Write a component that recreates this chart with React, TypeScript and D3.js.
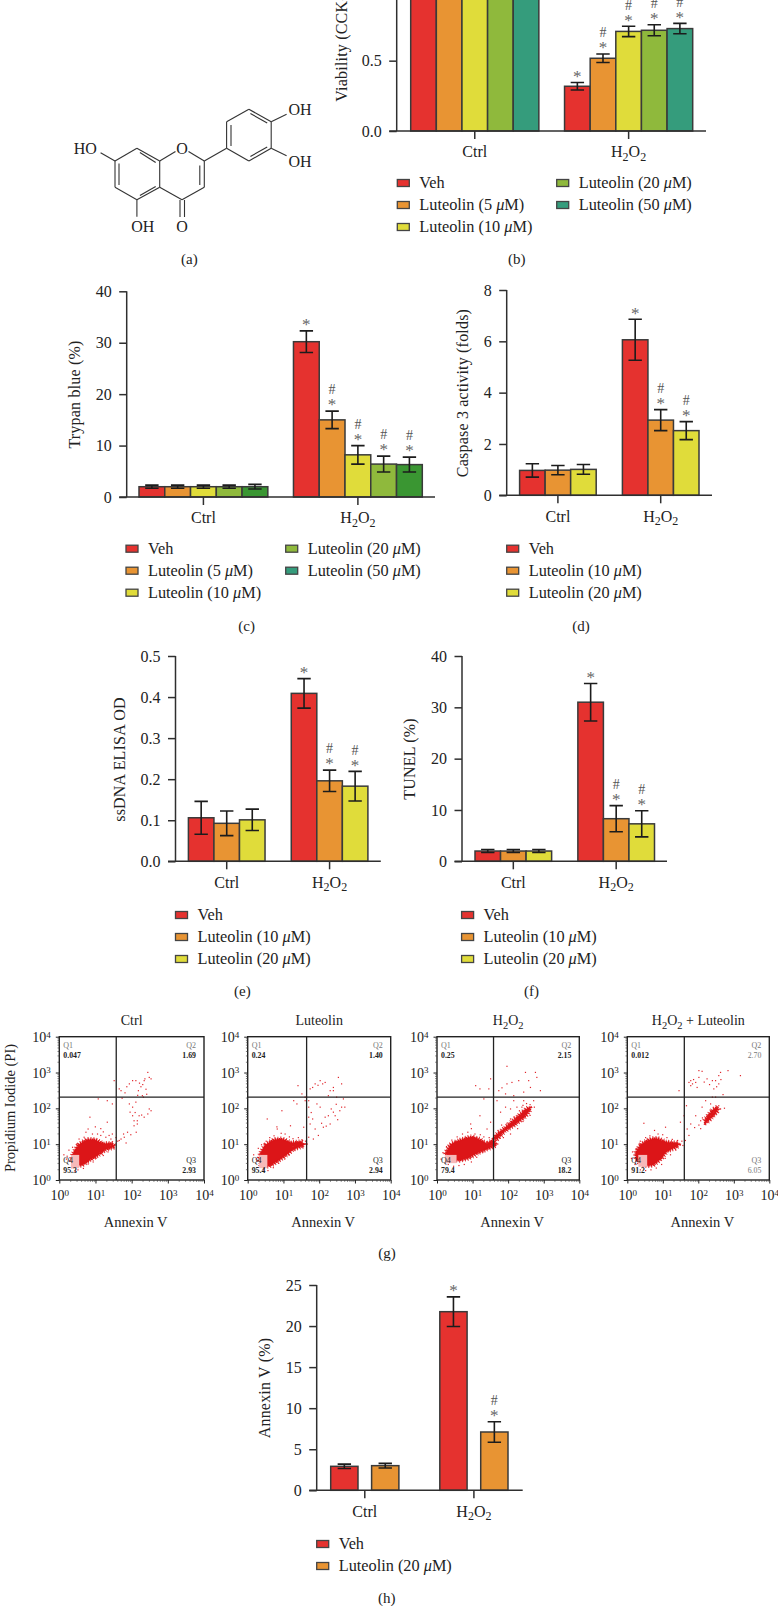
import React, { useEffect, useRef } from 'react';
import * as d3 from 'd3';

type Pt = [number, number];

const SERIF = '"Liberation Serif", "Times New Roman", serif';
const INK = '#2f2f2f';

const categories = ['Ctrl', 'H2O2'];

const RED = '#e5322f';
const ORANGE = '#e89433';
const YELLOW = '#e0dc3a';
const GREEN = '#8fb93c';
const TEAL = '#359c7c';
const DARK_GREEN = '#3a9632';

const fiveDoses = ['Veh', 'Luteolin (5 μM)', 'Luteolin (10 μM)', 'Luteolin (20 μM)', 'Luteolin (50 μM)'];
const threeDoses = ['Veh', 'Luteolin (10 μM)', 'Luteolin (20 μM)'];
const twoDoses = ['Veh', 'Luteolin (20 μM)'];

// (b) viability, the top of this panel falls off the page
const bMeans = [[1.0, 1.0, 1.0, 1.0, 1.0], [0.318, 0.517, 0.708, 0.716, 0.728]];
const bErrs = [[0.03, 0.03, 0.03, 0.03, 0.03], [0.027, 0.03, 0.037, 0.039, 0.037]];
const bMarks = [['', '', '', '', ''], ['*', '*#', '*#', '*#', '*#']];
const bTicks = [0, 0.5];

// (c) trypan blue
const cMeans = [[2, 2, 2, 2, 2], [30.2, 15, 8.2, 6.4, 6.3]];
const cErrs = [[0.3, 0.3, 0.3, 0.3, 0.45], [2.1, 1.7, 1.8, 1.55, 1.45]];
const cMarks = [['', '', '', '', ''], ['*', '*#', '*#', '*#', '*#']];
const cTicks = [0, 10, 20, 30, 40];

// (d) caspase 3
const dMeans = [[0.97, 0.98, 1.01], [6.06, 2.93, 2.52]];
const dErrs = [[0.26, 0.18, 0.19], [0.8, 0.41, 0.35]];
const dMarks = [['', '', ''], ['*', '*#', '*#']];
const dTicks = [0, 2, 4, 6, 8];

// (e) ssDNA
const eMeans = [[0.106, 0.0925, 0.101], [0.409, 0.196, 0.183]];
const eErrs = [[0.04, 0.03, 0.026], [0.036, 0.026, 0.036]];
const eMarks = [['', '', ''], ['*', '*#', '*#']];
const eTicks = [0, 0.1, 0.2, 0.3, 0.4, 0.5];

// (f) TUNEL
const fMeans = [[2, 2, 2], [31, 8.3, 7.3]];
const fErrs = [[0.3, 0.3, 0.3], [3.65, 2.55, 2.55]];
const fMarks = [['', '', ''], ['*', '*#', '*#']];
const fTicks = [0, 10, 20, 30, 40];

// (h) annexin V
const hMeans = [[2.92, 3.0], [21.75, 7.1]];
const hErrs = [[0.27, 0.28], [1.8, 1.25]];
const hMarks = [['', ''], ['*', '*#']];
const hTicks = [0, 5, 10, 15, 20, 25];

// (g) flow plots, all points as log10 of the channel value
const decades = [1, 10, 100, 1000, 10000];
const gateY = 2.316;

const ctrlBlob: Pt[] = [[0.39, 0.74], [0.53, 0.98], [0.76, 1.12], [0.99, 1.12], [1.22, 1.02], [1.45, 1.02], [1.52, 0.93], [1.27, 0.84], [1.08, 0.7], [0.85, 0.56], [0.62, 0.42], [0.44, 0.42], [0.34, 0.56]];
const ctrlDots: Pt[] = [
  [1.64, 2.56], [1.69, 2.51], [1.85, 2.62], [1.92, 2.7], [2.01, 2.79], [2.1, 2.79], [2.17, 2.51], [2.24, 2.62], [2.33, 2.79], [2.35, 2.84], [2.43, 3.02], [2.47, 2.88], [2.52, 2.84], [2.28, 2.37], [2.1, 2.19], [2.01, 2.05], [1.92, 2.14], [2.19, 1.81], [2.33, 1.77], [2.52, 1.95], [2.43, 1.86], [2.14, 1.67], [2.05, 1.67], [2.01, 1.81], [1.94, 1.91], [1.87, 1.35], [1.78, 1.21], [1.69, 1.16], [1.64, 1.12], [2.05, 1.53], [2.14, 1.58], [1.5, 2.79], [1.06, 2.28], [1.31, 2.23], [1.45, 2.14], [0.83, 1.77], [1.31, 1.63], [1.13, 1.45],
  [1.72, 2.3], [1.8, 2.45], [2.2, 2.72], [2.29, 2.68], [2.38, 2.55], [2.4, 2.41], [2.15, 2.38], [2.31, 2.33], [2.47, 2.0], [2.26, 1.83], [2.08, 1.9], [2.11, 1.35], [1.96, 1.28], [1.76, 1.3], [1.83, 1.05],
  [0.11, 0.72], [0.2, 0.68], [0.25, 0.85], [0.35, 0.93], [0.47, 1.02], [0.53, 1.16], [0.67, 1.21], [0.78, 1.44], [0.9, 1.3], [1.04, 1.3], [1.13, 1.26], [1.27, 1.21], [1.36, 1.26], [1.41, 1.16], [0.98, 1.5], [0.72, 1.35], [1.2, 1.36], [1.45, 1.3], [1.55, 1.2], [1.6, 1.1], [1.52, 0.98], [1.4, 0.98], [1.25, 0.86], [1.1, 0.78], [1.0, 0.62], [0.92, 0.52], [0.78, 0.46], [0.65, 0.34], [0.5, 0.3], [0.42, 0.26], [0.33, 0.36], [0.27, 0.55], [0.18, 0.6], [1.2, 0.7], [1.33, 0.8],
];

const lutBlob: Pt[] = [[0.36, 0.74], [0.5, 0.98], [0.74, 1.12], [0.97, 1.14], [1.2, 1.05], [1.5, 1.06], [1.56, 0.96], [1.28, 0.86], [1.08, 0.7], [0.85, 0.54], [0.62, 0.4], [0.44, 0.4], [0.33, 0.56]];
const lutDots: Pt[] = [
  [1.73, 2.56], [1.87, 2.7], [2.01, 2.79], [2.15, 2.74], [2.38, 2.6], [2.52, 2.88], [2.61, 2.7], [2.47, 2.33], [2.24, 2.37], [2.29, 2.51], [2.38, 2.51], [2.66, 2.28], [2.7, 2.05], [2.56, 1.95], [2.38, 1.91], [2.24, 1.81], [2.15, 1.77], [2.01, 2.05], [1.92, 2.14], [1.69, 2.23], [1.69, 2.05], [1.69, 1.77], [1.73, 1.58], [1.87, 1.44], [2.1, 1.49], [2.29, 1.58], [2.43, 1.81], [2.61, 2.05], [1.69, 1.21], [1.82, 1.16], [1.96, 1.26], [1.36, 2.14], [1.27, 2.23], [1.5, 2.42], [1.59, 2.33], [1.59, 2.23], [0.94, 1.95], [0.53, 1.72], [0.81, 1.44], [1.18, 1.53], [1.55, 1.49], [1.39, 2.65],
  [1.8, 2.6], [1.95, 2.66], [2.08, 2.7], [1.76, 1.9], [1.8, 1.72], [2.05, 1.6], [2.18, 1.52], [2.32, 2.0], [2.5, 1.7], [2.46, 2.13],
  [0.15, 0.72], [0.22, 0.6], [0.28, 0.9], [0.37, 1.0], [0.5, 1.1], [0.6, 1.2], [0.72, 1.25], [0.8, 1.5], [0.92, 1.32], [1.03, 1.3], [1.15, 1.22], [1.25, 1.17], [1.4, 1.2], [1.5, 1.14], [1.6, 1.1], [1.65, 1.02], [1.45, 0.95], [1.3, 0.85], [1.15, 0.72], [1.02, 0.6], [0.85, 0.48], [0.7, 0.36], [0.55, 0.28], [0.42, 0.3], [0.3, 0.42], [0.25, 0.55], [1.25, 0.95],
];

const h2o2Blob: Pt[] = [[0.25, 0.74], [0.38, 0.98], [0.62, 1.1], [0.95, 1.2], [1.18, 1.14], [1.4, 1.02], [1.6, 1.12], [1.65, 0.98], [1.4, 0.86], [1.15, 0.76], [0.9, 0.62], [0.62, 0.55], [0.35, 0.62]];
const h2o2Band: Pt[] = [[1.62, 1.22], [1.91, 1.45], [2.28, 1.78], [2.56, 2.02], [2.62, 1.98], [2.47, 1.77], [2.19, 1.55], [1.91, 1.37], [1.68, 1.14]];
const h2o2Dots: Pt[] = [
  [1.95, 3.19], [1.49, 2.84], [1.07, 2.65], [1.19, 2.56], [1.44, 2.56], [1.72, 2.51], [1.81, 2.59], [1.95, 2.7], [2.09, 2.74], [2.28, 2.79], [2.47, 3.02], [2.56, 2.79], [2.75, 3.02], [2.79, 2.88], [2.61, 2.6], [2.89, 2.51], [2.42, 2.47], [2.14, 2.37], [1.91, 2.42], [1.3, 2.28], [1.67, 2.23], [2.14, 2.23], [2.42, 2.23], [2.7, 2.23], [1.91, 2.05], [1.77, 1.91], [2.05, 2.0], [2.23, 2.05], [2.37, 2.05], [1.19, 1.81], [1.49, 1.63], [1.39, 1.44], [0.93, 1.58],
  [0.1, 0.6], [0.15, 0.78], [0.25, 0.95], [0.4, 1.13], [0.55, 1.22], [0.7, 1.3], [0.85, 1.35], [0.95, 1.45], [1.05, 1.3], [1.2, 1.28], [1.3, 1.22], [1.45, 1.2], [1.5, 0.98], [1.3, 0.8], [1.1, 0.65], [0.95, 0.52], [0.75, 0.45], [0.6, 0.42], [0.45, 0.4], [0.3, 0.45],
  [1.7, 1.4], [1.8, 1.55], [1.95, 1.6], [2.05, 1.72], [2.15, 1.78], [2.3, 1.95], [2.4, 2.1], [2.5, 2.15], [2.6, 2.12], [2.72, 2.05], [2.6, 1.82], [2.4, 1.65], [2.25, 1.45], [2.05, 1.3], [1.85, 1.2], [1.75, 1.18],
];

const comboBlob: Pt[] = [[0.24, 0.76], [0.38, 0.98], [0.6, 1.12], [0.83, 1.16], [1.1, 1.06], [1.44, 1.02], [1.38, 0.92], [1.12, 0.8], [0.95, 0.6], [0.72, 0.42], [0.42, 0.42], [0.26, 0.58]];
const comboBand: Pt[] = [[2.18, 1.66], [2.38, 1.93], [2.54, 2.03], [2.54, 1.93], [2.38, 1.75], [2.22, 1.6]];
const comboDots: Pt[] = [
  [1.77, 2.79], [1.82, 2.7], [2.0, 3.07], [2.09, 3.05], [2.23, 2.84], [2.0, 2.88], [1.91, 2.74], [1.72, 2.74], [1.77, 2.65], [2.38, 2.79], [2.47, 2.79], [2.56, 2.93], [2.61, 3.02], [2.56, 2.7], [2.42, 2.56], [2.82, 3.07], [3.17, 2.93], [1.44, 2.51], [2.38, 2.33], [2.47, 2.33], [2.19, 2.23], [2.09, 2.05], [2.33, 2.14], [2.56, 2.09], [2.61, 2.0], [2.42, 1.91], [2.33, 1.81], [2.19, 1.72], [2.05, 1.67], [1.91, 1.81], [1.77, 1.58], [1.67, 1.44], [1.72, 1.26], [1.62, 1.12], [1.58, 1.81], [1.65, 2.09], [0.45, 1.6], [1.06, 1.49], [1.48, 1.63],
  [1.85, 2.82], [1.95, 2.6], [2.15, 2.75], [2.3, 2.68], [2.5, 2.62], [2.62, 2.82], [2.68, 2.4], [2.0, 1.55], [1.88, 1.48], [2.05, 1.45], [2.1, 1.75], [2.72, 2.02],
  [0.1, 0.62], [0.13, 0.8], [0.25, 0.9], [0.35, 1.1], [0.5, 1.2], [0.62, 1.25], [0.75, 1.4], [0.85, 1.3], [0.98, 1.28], [1.1, 1.2], [1.25, 1.15], [1.4, 1.12], [1.52, 1.1], [1.55, 0.98], [1.35, 0.85], [1.2, 0.72], [1.05, 0.62], [0.95, 0.45], [0.8, 0.35], [0.65, 0.3], [0.5, 0.28], [0.35, 0.3], [0.2, 0.45],
];

const ctrlQuads = ['0.047', '1.69', '95.3', '2.93'];
const lutQuads = ['0.24', '1.40', '95.4', '2.94'];
const h2o2Quads = ['0.25', '2.15', '79.4', '18.2'];
const comboQuads = ['0.012', '2.70', '91.2', '6.05'];

function writeChem(sel: d3.Selection<any, any, any, any>, label: string, subDy = 0.3) {
  // H2O2 style labels: digits drop to subscript
  sel.text(null);
  let wasSub = false;
  label.split(/(\d)/).filter(Boolean).forEach(part => {
    const isSub = /\d/.test(part);
    const span = sel.append('tspan').text(part);
    if (isSub) span.attr('font-size', '0.75em').attr('dy', `${subDy}em`);
    else if (wasSub) span.attr('dy', `${-subDy * 0.75}em`);
    wasSub = isSub;
  });
}

function writeDose(sel: d3.Selection<any, any, any, any>, label: string) {
  const [a, b] = label.split('μ');
  sel.text(a);
  if (b !== undefined) {
    sel.append('tspan').attr('font-style', 'italic').text('μ');
    sel.append('tspan').text(b);
  }
}

interface BarPanelProps {
  axisX: number;
  axisEnd: number;
  top: number;
  bottom: number;
  barStart: number;
  barEnd: number;
  groupGap: number;
  barGap?: number;
  maxY: number;
  ticks: number[];
  tickFormat: string;
  means: number[][];
  errs: number[][];
  marks: string[][];
  colors: string[];
  legendColors?: string[];
  legend: string[];
  legendX: number;
  legendY: number;
  legendX2?: number;
  title: string;
  titleX: number;
  titleY: number;
  titleAnchor?: string;
}

function BarPanel(p: BarPanelProps) {
  const ref = useRef<SVGGElement>(null);

  useEffect(() => {
    if (!ref.current) return;
    const g = d3.select(ref.current);
    g.selectAll('*').remove();

    const y = d3.scaleLinear().domain([0, p.maxY]).range([p.bottom, p.top]);
    const x = d3.scaleBand<string>()
      .domain(categories)
      .range([p.barStart, p.barEnd])
      .paddingInner(p.groupGap);
    const inner = d3.scaleBand<number>()
      .domain(d3.range(p.colors.length))
      .range([0, x.bandwidth()])
      .paddingInner(p.barGap ?? 0);

    categories.forEach((cat, i) => {
      const grp = g.append('g').attr('transform', `translate(${x(cat)},0)`);
      p.means[i].forEach((v, j) => {
        grp.append('rect')
          .attr('x', inner(j)!)
          .attr('y', y(v))
          .attr('width', inner.bandwidth())
          .attr('height', y(0) - y(v))
          .attr('fill', p.colors[j])
          .attr('stroke', '#3a3a3a')
          .attr('stroke-width', 1.5);
      });
      p.means[i].forEach((v, j) => {
        const cx = inner(j)! + inner.bandwidth() / 2;
        const hi = y(v + p.errs[i][j]);
        const lo = y(v - p.errs[i][j]);
        const path = d3.path();
        path.moveTo(cx, hi); path.lineTo(cx, lo);
        path.moveTo(cx - 6.7, hi); path.lineTo(cx + 6.7, hi);
        path.moveTo(cx - 6.7, lo); path.lineTo(cx + 6.7, lo);
        grp.append('path').attr('d', path.toString()).attr('fill', 'none').attr('stroke', '#1c1c1c').attr('stroke-width', 1.6);

        const mark = p.marks[i][j];
        if (mark.includes('*')) {
          grp.append('text').attr('x', cx).attr('y', hi - 0.7).attr('text-anchor', 'middle')
            .attr('font-size', 17).attr('fill', '#666').text('*');
        }
        if (mark.includes('#')) {
          grp.append('text').attr('x', cx).attr('y', hi - 16.7).attr('text-anchor', 'middle')
            .attr('font-size', 14).attr('fill', '#555').text('#');
        }
      });
    });

    // axes
    const yAxis = g.append('g').attr('transform', `translate(${p.axisX},0)`)
      .call(d3.axisLeft(y).tickValues(p.ticks).tickSize(7.5).tickPadding(7.5).tickFormat(d3.format(p.tickFormat) as any));
    yAxis.select('.domain').remove();
    yAxis.append('line').attr('y1', y(0)).attr('y2', p.top);
    yAxis.selectAll('line').attr('stroke', INK).attr('stroke-width', 1.5);

    const xAxis = g.append('g').attr('transform', `translate(0,${p.bottom})`)
      .call(d3.axisBottom(x).tickSize(8).tickPadding(7));
    xAxis.select('.domain').remove();
    xAxis.append('line').attr('x1', p.axisX - 7.5).attr('x2', p.axisEnd);
    xAxis.selectAll('line').attr('stroke', INK).attr('stroke-width', 1.5);
    xAxis.selectAll<SVGTextElement, string>('.tick text').each(function (d) {
      if (d === 'H2O2') writeChem(d3.select(this), d);
    });

    g.selectAll('.tick text').attr('fill', '#222').attr('font-size', 16).attr('font-family', SERIF);

    g.append('text')
      .attr('transform', `translate(${p.titleX},${p.titleY}) rotate(-90)`)
      .attr('text-anchor', p.titleAnchor ?? 'middle')
      .attr('dominant-baseline', 'central')
      .attr('font-size', 16)
      .attr('letter-spacing', 0.2)
      .attr('fill', '#222')
      .text(p.title);

    // legend: three rows, then a second column when there are more entries
    p.legend.forEach((label, i) => {
      const col = i < 3 ? 0 : 1;
      const row = i < 3 ? i : i - 3;
      const lx = col === 0 ? p.legendX : p.legendX2!;
      const ly = p.legendY + row * 22;
      g.append('rect').attr('x', lx).attr('y', ly - 3.5).attr('width', 12).attr('height', 7)
        .attr('fill', (p.legendColors ?? p.colors)[i]).attr('stroke', '#444').attr('stroke-width', 1.3);
      const t = g.append('text').attr('x', lx + 22).attr('y', ly + 5).attr('font-size', 16.3).attr('fill', '#222');
      writeDose(t, label);
    });
  }, []);

  return <g ref={ref} fontFamily={SERIF} />;
}

interface FlowPlotProps {
  left: number;
  right: number;
  gateX: number;
  title: string;
  blob: Pt[];
  band?: Pt[];
  dots: Pt[];
  quads: string[];
  fadedQuads?: number[];
  pink: [number, number, number, number];
  showYLabel?: boolean;
}

function FlowPlot(p: FlowPlotProps) {
  const ref = useRef<SVGGElement>(null);

  useEffect(() => {
    if (!ref.current) return;
    const g = d3.select(ref.current);
    g.selectAll('*').remove();

    const top = 1036.7;
    const bottom = 1180;
    const x = d3.scaleLog().domain([1, 10000]).range([p.left, p.right]);
    const y = d3.scaleLog().domain([1, 10000]).range([bottom, top]);
    const px = (d: number) => x(10 ** d);
    const py = (d: number) => y(10 ** d);

    const line = d3.line<Pt>().x(d => px(d[0])).y(d => py(d[1])).curve(d3.curveCardinalClosed.tension(0.4));
    [p.blob, p.band].forEach(shape => {
      if (!shape) return;
      // the dashed strokes give the cloud its grainy rim
      g.append('path').attr('d', line(shape)).attr('fill', 'none').attr('stroke', '#e0242a')
        .attr('stroke-width', 5).attr('stroke-dasharray', '0.9 1.8');
      g.append('path').attr('d', line(shape)).attr('fill', '#dc1518').attr('stroke', '#dc1518')
        .attr('stroke-width', 2.2).attr('stroke-dasharray', '1.5 0.6');
    });
    g.selectAll('.dot').data(p.dots).enter().append('rect').attr('class', 'dot')
      .attr('x', d => px(d[0]))
      .attr('y', d => py(d[1]))
      .attr('width', 1.2)
      .attr('height', 1.2)
      .attr('fill', '#e0242a');

    g.append('rect')
      .attr('x', px(p.pink[0])).attr('y', py(p.pink[3]))
      .attr('width', px(p.pink[1]) - px(p.pink[0]))
      .attr('height', py(p.pink[2]) - py(p.pink[3]))
      .attr('fill', '#f6b9b9');

    g.append('rect').attr('x', p.left).attr('y', top).attr('width', p.right - p.left).attr('height', bottom - top)
      .attr('fill', 'none').attr('stroke', '#222').attr('stroke-width', 1.4);
    g.append('line').attr('x1', px(p.gateX)).attr('x2', px(p.gateX)).attr('y1', top).attr('y2', bottom)
      .attr('stroke', '#222').attr('stroke-width', 1.3);
    g.append('line').attr('x1', p.left).attr('x2', p.right).attr('y1', py(gateY)).attr('y2', py(gateY))
      .attr('stroke', '#222').attr('stroke-width', 1.3);

    const minor = decades.slice(0, -1).flatMap(d => d3.range(2, 10).map(m => d * m));
    const xMinor = g.append('g').attr('transform', `translate(0,${bottom})`)
      .call(d3.axisBottom(x).tickValues(minor).tickSize(1.8).tickFormat(() => ''));
    const yMinor = g.append('g').attr('transform', `translate(${p.left},0)`)
      .call(d3.axisLeft(y).tickValues(minor).tickSize(1.8).tickFormat(() => ''));
    [xMinor, yMinor].forEach(ax => {
      ax.select('.domain').remove();
      ax.selectAll('line').attr('stroke', '#444').attr('stroke-width', 0.7);
    });

    const xAxis = g.append('g').attr('transform', `translate(0,${bottom})`)
      .call(d3.axisBottom(x).tickValues(decades).tickSize(3.5).tickPadding(7).tickFormat(() => '10'));
    const yAxis = g.append('g').attr('transform', `translate(${p.left},0)`)
      .call(d3.axisLeft(y).tickValues(decades).tickSize(3.5).tickPadding(5).tickFormat(() => '10'));
    [xAxis, yAxis].forEach(ax => {
      ax.select('.domain').remove();
      ax.selectAll('line').attr('stroke', '#222');
      ax.selectAll<SVGTextElement, number>('.tick text')
        .attr('font-size', 14).attr('font-family', SERIF).attr('fill', '#222')
        .each(function (d) {
          d3.select(this).append('tspan').attr('dy', '-0.45em').attr('font-size', 9).text(Math.round(Math.log10(d)));
        });
    });

    const title = g.append('text').attr('x', (p.left + p.right) / 2).attr('y', 1025)
      .attr('text-anchor', 'middle').attr('font-size', 14).attr('fill', '#222');
    if (p.title.startsWith('H2O2')) writeChem(title, p.title, 0.35);
    else title.text(p.title);

    g.append('text').attr('x', (p.left + p.right) / 2 + 4).attr('y', 1226.5)
      .attr('text-anchor', 'middle').attr('font-size', 14.5).attr('fill', '#222').text('Annexin V');

    // quadrant labels, listed as Q1 Q2 Q4 Q3
    const quadNames = ['Q1', 'Q2', 'Q4', 'Q3'];
    const quadRows = [1048, 1048, 1163, 1163];
    quadNames.forEach((name, i) => {
      const rightSide = i === 1 || i === 3;
      const tx = rightSide ? p.right - 8 : p.left + 4;
      const anchor = rightSide ? 'end' : 'start';
      const faded = p.fadedQuads?.includes(i);
      g.append('text').attr('x', tx).attr('y', quadRows[i]).attr('text-anchor', anchor)
        .attr('font-size', 8).attr('fill', i < 2 || faded ? '#777' : '#222').text(name);
      g.append('text').attr('x', tx).attr('y', quadRows[i] + 9.7).attr('text-anchor', anchor)
        .attr('font-size', 7.8).attr('font-weight', faded ? 400 : 700)
        .attr('fill', faded ? '#777' : '#222').text(p.quads[i]);
    });

    if (p.showYLabel) {
      g.append('text')
        .attr('transform', 'translate(9.5,1108) rotate(-90)')
        .attr('text-anchor', 'middle').attr('dominant-baseline', 'central')
        .attr('font-size', 14.5).attr('fill', '#222').text('Propidium Iodide (PI)');
    }
  }, []);

  return <g ref={ref} fontFamily={SERIF} />;
}

// bond segments of the luteolin structure, drawing units only
const singleBonds: [number, number, number, number][] = [
  [115, 161, 136.9, 148.3], [136.9, 148.3, 159.7, 161], [159.7, 161, 159.7, 187.3], [159.7, 187.3, 136.9, 199.7], [136.9, 199.7, 115, 187.3], [115, 187.3, 115, 161],
  [159.7, 161, 175.5, 151.5], [188.5, 151.5, 204.3, 161], [204.3, 161, 204.3, 187.3], [204.3, 187.3, 182, 199.7], [182, 199.7, 159.7, 187.3],
  [204.3, 161, 226.6, 148.3], [226.6, 148.3, 226.6, 121.7], [226.6, 121.7, 248.9, 109.3], [248.9, 109.3, 271.2, 121.7], [271.2, 121.7, 271.2, 148.3], [271.2, 148.3, 248.9, 161], [248.9, 161, 226.6, 148.3],
  [271.2, 121.7, 286.6, 114.3], [271.2, 148.3, 286.6, 155.7], [115, 161, 100.6, 152.7], [136.9, 199.7, 136.9, 216.7],
];
const innerBonds: [number, number, number, number][] = [
  [119, 163.5, 119, 185], [139.9, 152.5, 155.7, 162.5], [139.9, 195.5, 155.7, 186.5], [199.8, 165.5, 199.8, 185],
  [180, 200, 180, 217], [184.5, 200, 184.5, 217], [231, 125, 231, 146], [250.4, 113.5, 267.2, 123], [250.4, 156.5, 267.2, 147],
];
const atomLabels: [string, number, number][] = [
  ['O', 182, 148.3], ['HO', 85.3, 148.3], ['OH', 300, 109], ['OH', 300, 161], ['OH', 142.8, 226.7], ['O', 182, 226.7],
];

function Molecule() {
  return (
    <g fontFamily={SERIF}>
      {singleBonds.concat(innerBonds).map((b, i) => (
        <line key={i} x1={b[0]} y1={b[1]} x2={b[2]} y2={b[3]} stroke="#333" strokeWidth={1.1} />
      ))}
      {atomLabels.map((a, i) => (
        <text key={i} x={a[1]} y={a[2] + 5.5} textAnchor="middle" fontSize={16} fill="#222">{a[0]}</text>
      ))}
    </g>
  );
}

const captions: [string, number, number][] = [
  ['(a)', 189.4, 264], ['(b)', 516.7, 264], ['(c)', 246.7, 630.5], ['(d)', 581, 630.5],
  ['(e)', 242.4, 996], ['(f)', 531.5, 996], ['(g)', 387, 1258], ['(h)', 386.7, 1603],
];

export default function App() {
  return (
    <svg width={778} height={1606} style={{ position: 'absolute', left: 0, top: 0, display: 'block' }}>
      <rect width={778} height={1606} fill="#fff" />
      <Molecule />
      <BarPanel axisX={396.7} axisEnd={706} top={-80} bottom={131} barStart={410.7} barEnd={692.7} groupGap={0.167}
        maxY={1.5} ticks={bTicks} tickFormat=".1f" means={bMeans} errs={bErrs} marks={bMarks}
        colors={[RED, ORANGE, YELLOW, GREEN, TEAL]} legend={fiveDoses} legendX={397.3} legendY={183} legendX2={556.7}
        title="Viability (CCK-8)" titleX={341.7} titleY={101.7} titleAnchor="start" />
      <BarPanel axisX={126.7} axisEnd={435} top={291.3} bottom={497} barStart={139} barEnd={422.3} groupGap={0.166}
        maxY={40} ticks={cTicks} tickFormat="d" means={cMeans} errs={cErrs} marks={cMarks}
        colors={[RED, ORANGE, YELLOW, GREEN, DARK_GREEN]} legendColors={[RED, ORANGE, YELLOW, GREEN, TEAL]}
        legend={fiveDoses} legendX={126} legendY={548.7} legendX2={285.7}
        title="Trypan blue (%)" titleX={74} titleY={394.5} />
      <BarPanel axisX={506.7} axisEnd={712} top={290} bottom={495.3} barStart={519.6} barEnd={699} groupGap={0.255}
        maxY={8} ticks={dTicks} tickFormat="d" means={dMeans} errs={dErrs} marks={dMarks}
        colors={[RED, ORANGE, YELLOW]} legend={threeDoses} legendX={506.7} legendY={548.7}
        title="Caspase 3 activity (folds)" titleX={462} titleY={393} />
      <BarPanel axisX={175.5} axisEnd={380.8} top={656} bottom={861.3} barStart={188.4} barEnd={367.9} groupGap={0.255}
        maxY={0.5} ticks={eTicks} tickFormat=".1f" means={eMeans} errs={eErrs} marks={eMarks}
        colors={[RED, ORANGE, YELLOW]} legend={threeDoses} legendX={175.5} legendY={915}
        title="ssDNA ELISA OD" titleX={119} titleY={759.5} />
      <BarPanel axisX={462} axisEnd={667} top={656} bottom={861.3} barStart={475} barEnd={654.5} groupGap={0.255}
        maxY={40} ticks={fTicks} tickFormat="d" means={fMeans} errs={fErrs} marks={fMarks}
        colors={[RED, ORANGE, YELLOW]} legend={threeDoses} legendX={461.6} legendY={915}
        title="TUNEL (%)" titleX={409.5} titleY={759} />
      <BarPanel axisX={316.7} axisEnd={522.7} top={1285} bottom={1490.3} barStart={330.7} barEnd={508} groupGap={0.375} barGap={0.333}
        maxY={25} ticks={hTicks} tickFormat="d" means={hMeans} errs={hErrs} marks={hMarks}
        colors={[RED, ORANGE]} legend={twoDoses} legendX={316.7} legendY={1544}
        title="Annexin V (%)" titleX={264} titleY={1388} />

      <FlowPlot left={59.3} right={204} gateX={1.574} title="Ctrl" blob={ctrlBlob} dots={ctrlDots} quads={ctrlQuads} pink={[0.32, 0.55, 0.33, 0.7]} showYLabel />
      <FlowPlot left={247.7} right={390.7} gateX={1.648} title="Luteolin" blob={lutBlob} dots={lutDots} quads={lutQuads} pink={[0.32, 0.55, 0.33, 0.7]} />
      <FlowPlot left={437} right={579.3} gateX={1.589} title="H2O2" blob={h2o2Blob} band={h2o2Band} dots={h2o2Dots} quads={h2o2Quads} pink={[0.22, 0.55, 0.47, 0.7]} />
      <FlowPlot left={627.3} right={769.3} gateX={1.606} title="H2O2 + Luteolin" blob={comboBlob} band={comboBand} dots={comboDots} quads={comboQuads} fadedQuads={[1, 3]} pink={[0.31, 0.56, 0.37, 0.7]} />

      <g fontFamily={SERIF}>
        {captions.map(c => (
          <text key={c[0]} x={c[1]} y={c[2]} textAnchor="middle" fontSize={15} fill="#222">{c[0]}</text>
        ))}
      </g>
    </svg>
  );
}
